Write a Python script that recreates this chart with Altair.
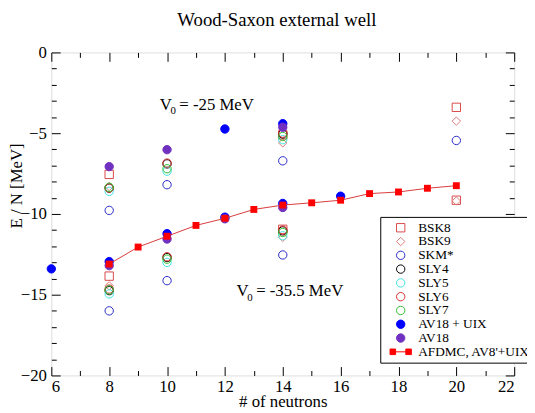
import altair as alt
import pandas as pd

SERIF = "Liberation Serif"

# ---------------- data ----------------
series_names = ["BSK8", "BSK9", "SKM*", "SLY4", "SLY5", "SLY6", "SLY7",
                "AV18 + UIX", "AV18", "AFDMC, AV8'+UIX"]
stroke_colors = ["#d84848", "#e07a7a", "#2a2ac8", "#000000", "#3fe0e0",
                 "#d83030", "#30c030", "#0000ff", "#7030c0", "#ff0000"]
fill_colors = ["transparent"] * 7 + ["#0000ff", "#7030c0", "#ff0000"]
afdmc_symbol = "M-2.55,-0.67h1.33v1.33h-1.33zM1.22,-0.67h1.33v1.33h-1.33zM-1.9,0H1.9"
shapes = ["square", "diamond"] + ["circle"] * 7 + [afdmc_symbol]

bsk8_n = [8, 8, 14, 14, 20, 20]
bsk8_e = [-7.55, -13.85, -5.1, -10.95, -3.4, -9.15]
bsk9_n = [8, 8, 14, 14, 20, 20]
bsk9_e = [-8.3, -14.45, -5.6, -11.45, -4.25, -9.2]
skm_n = [8, 8, 10, 10, 14, 14, 20]
skm_e = [-9.78, -16.0, -8.19, -14.13, -6.71, -12.54, -5.45]
sly4_n = [8, 8, 10, 10, 14, 14]
sly4_e = [-8.4, -14.75, -6.9, -12.7, -5.05, -11.05]
sly5_n = [8, 8, 10, 10, 14, 14]
sly5_e = [-8.6, -14.95, -7.35, -13.0, -5.4, -11.35]
sly6_n = [8, 8, 10, 10, 14, 14]
sly6_e = [-8.4, -14.65, -6.85, -12.65, -5.0, -11.0]
sly7_n = [8, 8, 10, 10, 14, 14]
sly7_e = [-8.35, -14.7, -7.2, -12.8, -5.2, -11.15]
av18uix_n = [6, 8, 10, 12, 12, 14, 14, 16]
av18uix_e = [-13.4, -12.95, -11.22, -4.74, -10.2, -4.41, -9.35, -8.9]
av18_n = [8, 8, 10, 10, 12, 14, 14]
av18_e = [-7.07, -13.2, -6.02, -11.55, -10.3, -4.63, -9.6]
afdmc_n = [8, 9, 10, 11, 12, 13, 14, 15, 16, 17, 18, 19, 20]
afdmc_e = [-13.1, -12.05, -11.38, -10.71, -10.27, -9.72, -9.45, -9.31,
           -9.15, -8.74, -8.64, -8.41, -8.25]

x_major = [6, 8, 10, 12, 14, 16, 18, 20, 22]
x_all = list(range(6, 23))
y_major = [0, -5, -10, -15, -20]
y_all = list(range(-20, 1))

title_text = "Wood-Saxon external well"
ann_texts = ["V", "0", "= -25 MeV", "V", "0", "= -35.5 MeV"]

scatter_sets = [
    ("BSK8", bsk8_n, bsk8_e), ("BSK9", bsk9_n, bsk9_e), ("SKM*", skm_n, skm_e),
    ("SLY4", sly4_n, sly4_e), ("SLY5", sly5_n, sly5_e), ("SLY6", sly6_n, sly6_e),
    ("SLY7", sly7_n, sly7_e), ("AV18 + UIX", av18uix_n, av18uix_e),
    ("AV18", av18_n, av18_e),
]
rows = []
order = 0
for name, ns, es in scatter_sets:
    for n, e in zip(ns, es):
        rows.append({"n": n, "E": e, "series": name, "ord": order})
        order += 1
df = pd.DataFrame(rows)
df_afdmc = pd.DataFrame({"n": afdmc_n, "E": afdmc_e})

# ---------------- layout ----------------
W, H = 470, 328
xscale = alt.Scale(domain=[6, 22], nice=False, zero=False)
yscale = alt.Scale(domain=[-20, 0], nice=False, zero=False)

x_tick_size = {"condition": {"test": "datum.value % 2 !== 0", "value": 5}, "value": 9}
y_tick_size = {"condition": {"test": "datum.value % 5 !== 0", "value": 5}, "value": 9}

x_axis_labels = alt.Axis(orient="bottom", values=x_major, ticks=False, domain=False,
                         grid=False, labelFont=SERIF, labelFontSize=17, labelColor="black",
                         labelPadding=3, title="# of neutrons", titleFont=SERIF,
                         titleFontSize=17, titleFontWeight="normal", titleColor="black",
                         titleY=32, titleBaseline="alphabetic")
x_axis_in_bottom = alt.Axis(orient="top", offset=-H, values=x_all, labels=False,
                            domain=False, grid=False, title=None, tickColor="black",
                            tickWidth=1, tickSize=x_tick_size)
x_axis_in_top = alt.Axis(orient="bottom", offset=-H, values=x_all, labels=False,
                         domain=False, grid=False, title=None, tickColor="black",
                         tickWidth=1, tickSize=x_tick_size)

y_axis_labels = alt.Axis(orient="left", values=y_major, ticks=False, domain=False,
                         grid=False, labelFont=SERIF, labelFontSize=17, labelColor="black",
                         labelPadding=5, title="E / N [MeV]", titleFont=SERIF,
                         titleFontSize=17, titleFontWeight="normal", titleColor="black",
                         titleX=-35, titleY=135, titleBaseline="middle", titleAngle=-90)
y_axis_in_left = alt.Axis(orient="right", offset=-W, values=y_all, labels=False,
                          domain=False, grid=False, title=None, tickColor="black",
                          tickWidth=1, tickSize=y_tick_size)
y_axis_in_right = alt.Axis(orient="left", offset=-W, values=y_all, labels=False,
                           domain=False, grid=False, title=None, tickColor="black",
                           tickWidth=1, tickSize=y_tick_size)

leg = alt.Legend(title=None)

scatter = alt.Chart(df).mark_point(size=72, strokeWidth=1, opacity=1).encode(
    x=alt.X("n:Q", scale=xscale, axis=x_axis_labels),
    y=alt.Y("E:Q", scale=yscale, axis=y_axis_labels),
    shape=alt.Shape("series:N", scale=alt.Scale(domain=series_names, range=shapes), legend=leg),
    stroke=alt.Stroke("series:N", scale=alt.Scale(domain=series_names, range=stroke_colors), legend=leg),
    fill=alt.Fill("series:N", scale=alt.Scale(domain=series_names, range=fill_colors), legend=leg),
    order=alt.Order("ord:Q"),
)

line = alt.Chart(df_afdmc).mark_line(color="#d83a3a", strokeWidth=1).encode(
    x=alt.X("n:Q", scale=xscale, axis=x_axis_in_bottom),
    y=alt.Y("E:Q", scale=yscale, axis=y_axis_in_left),
)

squares = alt.Chart(df_afdmc).mark_square(color="#ff0000", size=49, opacity=1).encode(
    x=alt.X("n:Q", scale=xscale, axis=x_axis_in_top),
    y=alt.Y("E:Q", scale=yscale, axis=y_axis_in_right),
)

ann_df = pd.DataFrame({"t": ann_texts,
                       "px": [110, 121, 130, 188, 199, 208],
                       "py": [58, 63, 58, 247, 252, 247],
                       "fs": [17, 11, 17, 17, 11, 17]})
ann = alt.Chart(ann_df).mark_text(font=SERIF, color="black", align="left",
                                  baseline="alphabetic").encode(
    x=alt.X("px:Q", scale=None), y=alt.Y("py:Q", scale=None), text="t:N",
    size=alt.Size("fs:Q", scale=None, legend=None),
)

title = alt.Chart(pd.DataFrame({"t": [title_text]})).mark_text(
    font=SERIF, fontSize=19, color="black", align="center", baseline="alphabetic"
).encode(x=alt.value(229), y=alt.value(-27), text="t:N")

chart = alt.layer(scatter, line, squares, ann, title).resolve_axis(
    x="independent", y="independent"
).properties(
    width=W, height=H,
    autosize=alt.AutoSizeParams(type="none"),
    padding={"left": 44, "top": 42, "right": 13, "bottom": 35},
).configure_view(
    stroke="black", strokeWidth=1
).configure(background="white").configure_legend(
    orient="none", legendX=334, legendY=167, fillColor="white", strokeColor="black",
    strokeWidth=1, padding=4, labelFont=SERIF, labelFontSize=13.5, labelColor="black",
    symbolSize=72, symbolStrokeWidth=1, rowPadding=0, clipHeight=14, labelOffset=11,
    symbolOffset=10, cornerRadius=0, labelLimit=300,
)

chart.save("out.html", embed_options={"renderer": "svg", "actions": False})
